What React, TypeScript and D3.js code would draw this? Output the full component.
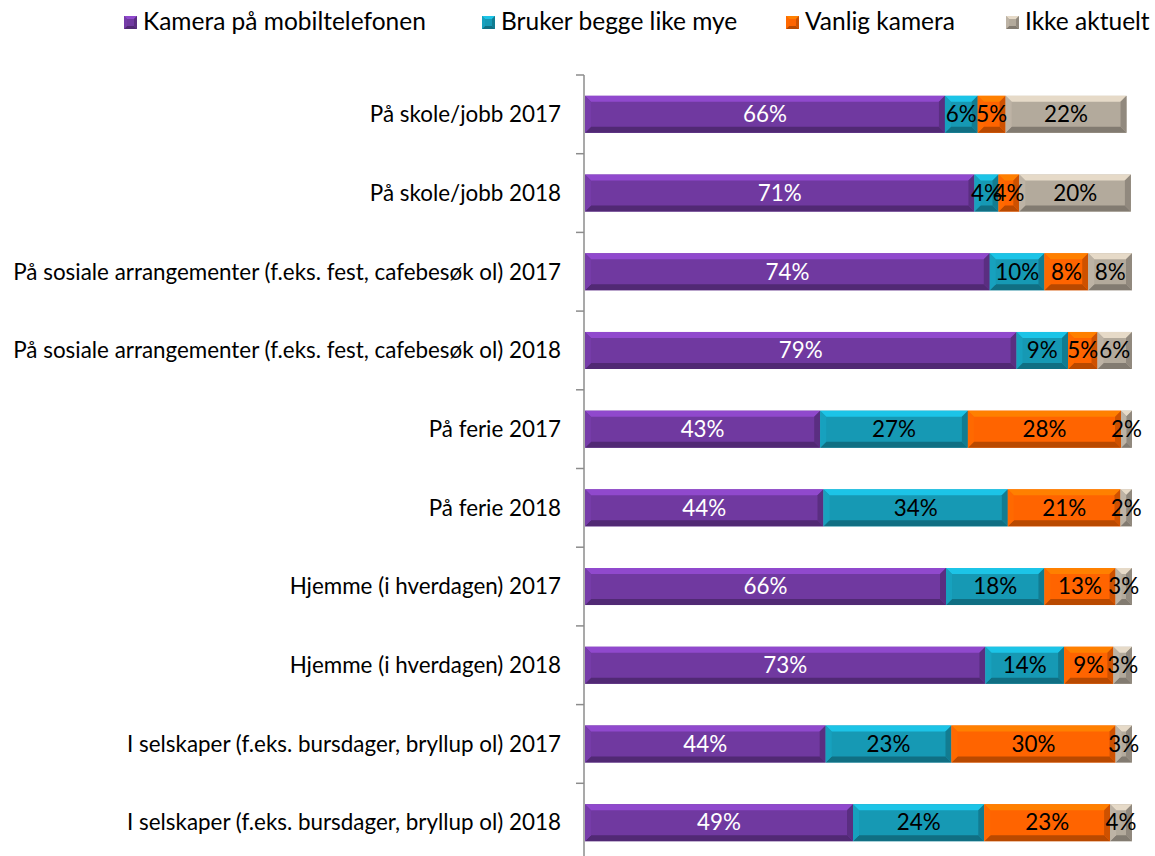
import React from "react";
import * as d3 from "d3";

const categories = [
  "På skole/jobb 2017",
  "På skole/jobb 2018",
  "På sosiale arrangementer (f.eks. fest, cafebesøk ol) 2017",
  "På sosiale arrangementer (f.eks. fest, cafebesøk ol) 2018",
  "På ferie 2017",
  "På ferie 2018",
  "Hjemme (i hverdagen) 2017",
  "Hjemme (i hverdagen) 2018",
  "I selskaper (f.eks. bursdager, bryllup ol) 2017",
  "I selskaper (f.eks. bursdager, bryllup ol) 2018",
];
const seriesNames = ["Kamera på mobiltelefonen", "Bruker begge like mye", "Vanlig kamera", "Ikke aktuelt"];
// values (labels show the rounded numbers)
const mobil = [65.8, 71.2, 74, 78.9, 43, 43.6, 66, 73.2, 44, 49];
const begge = [6, 4.4, 10, 9.4, 27, 33.7, 18, 14.4, 23, 24];
const vanlig = [5.1, 3.8, 8, 5.4, 28, 20.6, 13, 9, 30, 23];
const ikke = [22.1, 20.4, 8, 6.3, 2, 2.1, 3, 3.4, 3, 4];
const seriesColors = ["#7039a0", "#1699b4", "#ff6400", "#b3aa9c"];
const labelColors = ["#ffffff", "#000000", "#000000", "#000000"];

const W = 1155;
const H = 856;
const FONT = "Lato, 'Open Sans', sans-serif";

function Bevel({ x, y, w, h, color, b0 = 6 }: { x: number; y: number; w: number; h: number; color: string; b0?: number }) {
  const b = Math.max(0, Math.min(b0, w / 2, h / 2));
  const c = d3.color(color)!;
  const top = c.brighter(0.7).formatHex();
  const bottom = c.darker(0.9).formatHex();
  const left = c.brighter(0.15).formatHex();
  const right = c.darker(0.6).formatHex();
  const x2 = x + w, y2 = y + h;
  return (
    <g>
      <rect x={x} y={y} width={w} height={h} fill={color} />
      <polygon points={`${x},${y} ${x2},${y} ${x2 - b},${y + b} ${x + b},${y + b}`} fill={top} />
      <polygon points={`${x},${y2} ${x2},${y2} ${x2 - b},${y2 - b} ${x + b},${y2 - b}`} fill={bottom} />
      <polygon points={`${x},${y} ${x + b},${y + b} ${x + b},${y2 - b} ${x},${y2}`} fill={left} />
      <polygon points={`${x2},${y} ${x2 - b},${y + b} ${x2 - b},${y2 - b} ${x2},${y2}`} fill={right} />
    </g>
  );
}

export default function App() {
  const axisX = 584;
  const x = d3.scaleLinear().domain([0, 100]).range([axisX + 1, axisX + 1 + 547]);
  const y = d3.scaleBand<string>().domain(categories).range([75, 862]).paddingInner(0.53).paddingOuter(0.265);
  const series = [mobil, begge, vanlig, ikke];
  const legendX = [124, 482, 786, 1006];

  return (
    <svg width={W} height={H} style={{ position: "absolute", left: 0, top: 0 }} fontFamily={FONT}>
      <rect width={W} height={H} fill="#fff" />
      {seriesNames.map((n, i) => (
        <g key={n}>
          <Bevel x={legendX[i]} y={16} w={13} h={13} color={seriesColors[i]} b0={3} />
          <text x={legendX[i] + 19} y={30} fontSize={24.5} fill="#000">{n}</text>
        </g>
      ))}
      <line x1={axisX} x2={axisX} y1={75} y2={H} stroke="#8c8c8c" strokeWidth={1.5} />
      {d3.range(0, 11).map((i) => {
        const ty = 75 + i * (787 / 10);
        return <line key={i} x1={axisX - 8} x2={axisX} y1={ty} y2={ty} stroke="#8c8c8c" strokeWidth={1.5} />;
      })}
      {categories.map((c, ci) => {
        const by = y(c)!;
        const bh = y.bandwidth();
        let acc = 0;
        return (
          <g key={c}>
            <text x={axisX - 23} y={by + bh / 2} dy="0.35em" textAnchor="end" fontSize={22.4} fill="#000">{c}</text>
            {series.map((s, si) => {
              const v = s[ci];
              const x0 = x(acc);
              const x1 = x(acc + v);
              acc += v;
              return <Bevel key={si} x={x0} y={by} w={x1 - x0} h={bh} color={seriesColors[si]} />;
            })}
            {(() => {
              let a = 0;
              return series.map((s, si) => {
                const v = s[ci];
                const cx = (x(a) + x(a + v)) / 2;
                a += v;
                return (
                  <text key={"l" + si} x={cx} y={by + bh / 2} dy="0.35em" textAnchor="middle" fontSize={22.4} fill={labelColors[si]}>
                    {Math.round(v)}%
                  </text>
                );
              });
            })()}
          </g>
        );
      })}
    </svg>
  );
}
